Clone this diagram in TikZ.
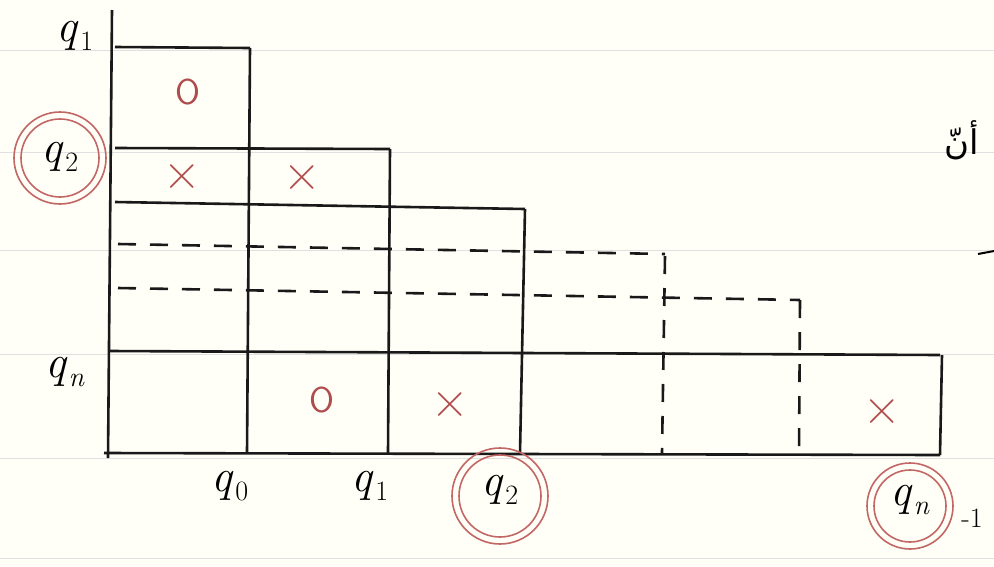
\documentclass[tikz,border=0pt]{standalone}
\usepackage{fontspec}
\newfontfamily\arabicfont[Script=Arabic]{DejaVu Sans}
\TeXXeTstate=1
\newcommand{\qlab}[1]{\textit{q}\kern1pt\raisebox{-0.45ex}{\fontsize{28}{30}\selectfont #1}}
\begin{document}
\begin{tikzpicture}[x=1pt,y=-1pt,
  grid/.style={line width=2.6pt,black!90},
  dgrid/.style={line width=2.6pt,black!90,dash pattern=on 18pt off 14pt},
  paper/.style={line width=0.8pt,black!12},
  lab/.style={font=\fontsize{46}{50}\selectfont,inner sep=0pt},
  cellmark/.style={font=\fontsize{36}{40}\selectfont\sffamily,text=red!55!black!70,inner sep=0pt},
  cellx/.style={font=\fontsize{52}{56}\selectfont,text=red!55!black!70,inner sep=0pt},
  ring/.style={draw=red!60!black!60,line width=1.6pt,circle,inner sep=0pt}]
\useasboundingbox (0,0) rectangle (994,566);
\fill[white!97!yellow] (0,0) rectangle (994,566);
% paper lines
\foreach \yy in {50,152,250,354,458,558}
  \draw[paper] (0,\yy) -- (994,\yy);
% axes
\draw[grid] (112,10) -- (108,458);
\draw[grid] (104,453) -- (940,455);
% solid rows
\draw[grid] (115,47) -- (250,48);
\draw[grid] (115,148) -- (390,149);
\draw[grid] (115,202) -- (525,209);
\draw[grid] (110,351) -- (940,355);
% dashed rows
\draw[dgrid] (118,244) -- (665,254);
\draw[dgrid] (118,288) -- (800,300);
% solid columns
\draw[grid] (250,48) -- (247,453);
\draw[grid] (390,149) -- (388,453);
\draw[grid] (525,209) -- (520,453);
\draw[grid] (942,355) -- (940,455);
% dashed columns
\draw[dgrid] (665,256) -- (662,453);
\draw[dgrid] (800,300) -- (799,455);
% row labels
\node[lab] (r1) at (75,36) {\qlab{1}};
\node[lab] (r2) at (60,157) {\qlab{2}};
\node[lab] (rn) at (65,372) {\qlab{\textit{n}}};
% column labels
\node[lab] (c0) at (230,486) {\qlab{0}};
\node[lab] (c1) at (370,486) {\qlab{1}};
\node[lab] (c2) at (500,490) {\qlab{2}};
\node[lab] (cn) at (910,500) {\qlab{\textit{n}}};
\node[lab,font=\fontsize{28}{30}\selectfont] (cnsub) at (972,518) {-1};
% accepting rings
\node[ring,minimum size=92pt] (o2) at (60,158) {};
\node[ring,minimum size=78pt] (i2) at (60,158) {};
\node[ring,minimum size=96pt] (oc2) at (500,496) {};
\node[ring,minimum size=82pt] (ic2) at (500,496) {};
\node[ring,minimum size=86pt] (ocn) at (910,506) {};
\node[ring,minimum size=72pt] (icn) at (910,506) {};
% cell marks
\node[cellmark] (m1) at (188,92) {O};
\node[cellx] (m2) at (182,177) {×};
\node[cellx] (m3) at (302,178) {×};
\node[cellmark] (m4) at (322,400) {O};
\node[cellx] (m5) at (450,405) {×};
\node[cellx] (m6) at (882,412) {×};
% margin text
\node[inner sep=0pt,font=\fontsize{34}{38}\selectfont] (ar) at (962,140) {\arabicfont\beginR أنّ\endR};
\draw[line width=2pt] (978,254) -- (994,251);
\end{tikzpicture}
\end{document}
